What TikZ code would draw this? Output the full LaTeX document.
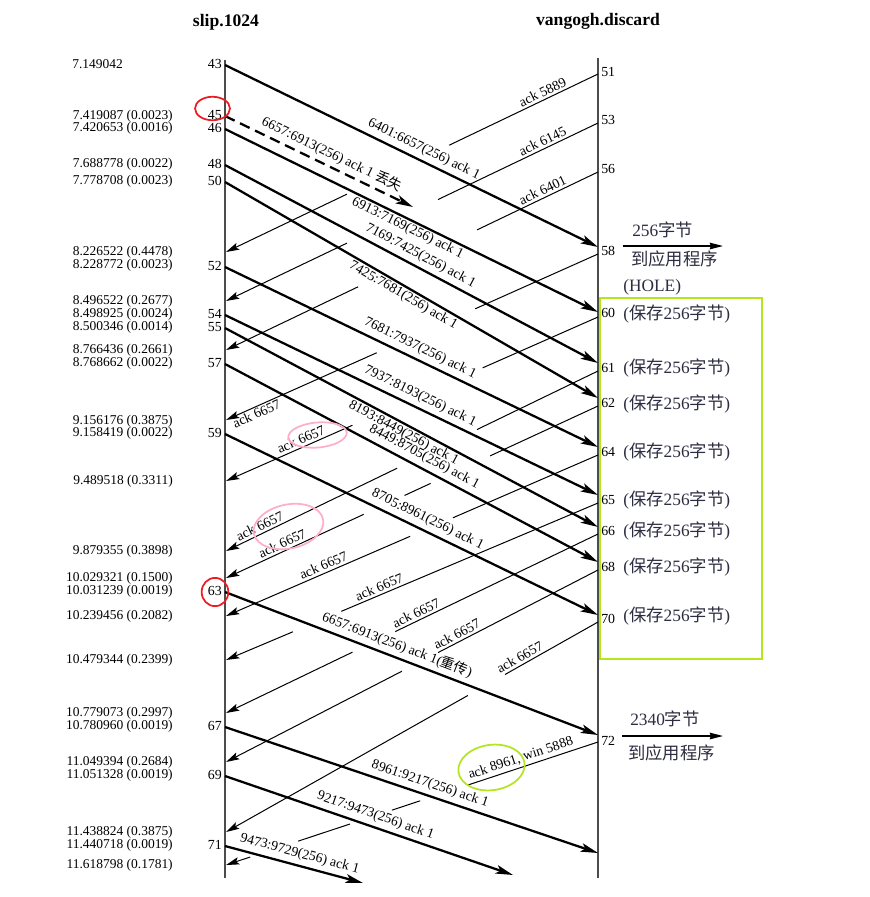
\documentclass[tikz,border=0pt]{standalone}
\usepackage{fontspec}
\setmainfont{Liberation Serif}
\newfontfamily\cjk{Noto Sans CJK SC}
\usetikzlibrary{arrows.meta,calc}
\definecolor{hlred}{RGB}{237,28,36}
\definecolor{hlpink}{RGB}{255,174,201}
\definecolor{hllime}{RGB}{181,230,29}
\definecolor{anncol}{RGB}{45,45,65}
\begin{document}
\begin{tikzpicture}[x=0.75pt,y=-0.75pt,
  timeline/.style={line width=0.9pt, draw=black!70},
  datal/.style={line width=1.7pt, -{Stealth[length=13pt,width=6.5pt,inset=3pt]}},
  ackline/.style={line width=0.75pt},
  acktip/.style={line width=0.75pt, -{Stealth[length=10pt,width=5.5pt,inset=2pt]}},
  seglbl/.style={sloped, inner sep=1pt, font=\fontsize{10.4}{12}\selectfont},
  segnum/.style={inner sep=0pt, font=\fontsize{10.4}{12}\selectfont},
  tstamp/.style={inner sep=0pt, anchor=east, font=\fontsize{10.1}{12}\selectfont},
  annot/.style={inner sep=0pt, anchor=west, text=anncol, font=\fontsize{13}{15}\selectfont},
  hdr/.style={inner sep=0pt, font=\fontsize{13.2}{15}\selectfont\bfseries},
  appar/.style={line width=1pt, -{Stealth[length=10pt,width=5pt,inset=1pt]}},
  hl/.style={line width=1.3pt}
]
\useasboundingbox (0,0) rectangle (870,897);
\fill[white] (0,0) rectangle (870,897);

% headers
\node[hdr, anchor=base] (h1) at (226,26) {slip.1024};
\node[hdr, anchor=base] (h2) at (598,25) {vangogh.discard};

% timelines
\coordinate (LT) at (225,60); \coordinate (LB) at (225,878);
\coordinate (RT) at (598,58); \coordinate (RB) at (598,878);
\draw[timeline] (LT) -- (LB);
\draw[timeline] (RT) -- (RB);

% time stamps
\node[tstamp, anchor=west] (ts0) at (72,64) {7.149042};
\foreach \t/\y [count=\i] in {
  7.419087 (0.0023)/116, 7.420653 (0.0016)/128, 7.688778 (0.0022)/164,
  7.778708 (0.0023)/181, 8.226522 (0.4478)/252, 8.228772 (0.0023)/265,
  8.496522 (0.2677)/301, 8.498925 (0.0024)/314, 8.500346 (0.0014)/327,
  8.766436 (0.2661)/350, 8.768662 (0.0022)/363, 9.156176 (0.3875)/421,
  9.158419 (0.0022)/433, 9.489518 (0.3311)/481, 9.879355 (0.3898)/551,
  10.029321 (0.1500)/578, 10.031239 (0.0019)/591, 10.239456 (0.2082)/616,
  10.479344 (0.2399)/660, 10.779073 (0.2997)/713, 10.780960 (0.0019)/726,
  11.049394 (0.2684)/762, 11.051328 (0.0019)/775, 11.438824 (0.3875)/832,
  11.440718 (0.0019)/845, 11.618798 (0.1781)/865}
  \node[tstamp] (ts\i) at (173,\y) {\t};

% segment numbers
\foreach \n/\y in {43/64,45/115,46/128,48/164,50/181,52/266,54/314,55/327,
  57/363,59/433,63/591,67/726,69/775,71/845}
  \node[segnum, anchor=east] (ln\n) at (222,\y) {\n};
\foreach \n/\y in {51/72,53/120,56/169,58/251,60/313,61/368,62/403,64/452,
  65/500,66/531,68/567,70/619,72/741}
  \node[segnum, anchor=west] (rn\n) at (601,\y) {\n};

% data segment end points
\coordinate (s43) at (225,65);  \coordinate (r58) at (598,247);
\coordinate (s45) at (225,116); \coordinate (e45) at (413,207);
\coordinate (s46) at (225,129); \coordinate (r60) at (598,312);
\coordinate (s48) at (225,165); \coordinate (r61) at (598,363);
\coordinate (s50) at (225,182); \coordinate (r62) at (598,398);
\coordinate (s52) at (225,267); \coordinate (r64) at (598,447);
\coordinate (s54) at (225,315); \coordinate (r65) at (598,495);
\coordinate (s55) at (225,328); \coordinate (r66) at (598,527);
\coordinate (s57) at (225,364); \coordinate (r68) at (598,562);
\coordinate (s59) at (225,434); \coordinate (r70) at (598,615);
\coordinate (s63) at (225,592); \coordinate (r72) at (598,735);
\coordinate (s67) at (225,727); \coordinate (e67) at (598,853);
\coordinate (s69) at (225,776); \coordinate (e69) at (513,875);
\coordinate (s71) at (225,846); \coordinate (e71) at (363,883);

% data segments
\draw[datal] (s43) -- (r58) node[seglbl, pos=.52, above=2pt] (d43) {6401:6657(256) ack 1};
\draw[datal, dash pattern=on 8pt off 4.5pt] (s45) -- (e45) node[seglbl, pos=.54, above=2pt] (d45) {6657:6913(256) ack 1 {\cjk 丢失}};
\draw[datal] (s46) -- (r60) node[seglbl, pos=.50, below=0pt] (d46) {6913:7169(256) ack 1};
\draw[datal] (s48) -- (r61) node[seglbl, pos=.51, above=2pt] (d48) {7169:7425(256) ack 1};
\draw[datal] (s50) -- (r62) node[seglbl, pos=.49, below=0pt] (d50) {7425:7681(256) ack 1};
\draw[datal] (s52) -- (r64) node[seglbl, pos=.51, above=2pt] (d52) {7681:7937(256) ack 1};
\draw[datal] (s54) -- (r65) node[seglbl, pos=.51, above=2pt] (d54) {7937:8193(256) ack 1};
\draw[datal] (s55) -- (r66) node[seglbl, pos=.49, below=0pt] (d55) {8193:8449(256) ack 1};
\draw[datal] (s57) -- (r68) node[seglbl, pos=.52, above=2pt] (d57) {8449:8705(256) ack 1};
\draw[datal] (s59) -- (r70) node[seglbl, pos=.53, above=2pt] (d59) {8705:8961(256) ack 1};
\draw[datal] (s63) -- (r72) node[seglbl, pos=.45, above=2pt] (d63) {6657:6913(256) ack 1({\cjk 重传})};
\draw[datal] (s67) -- (e67) node[seglbl, pos=.54, above=2pt] (d67) {8961:9217(256) ack 1};
\draw[datal] (s69) -- (e69) node[seglbl, pos=.51, above=2pt] (d69) {9217:9473(256) ack 1};
\draw[datal] (s71) -- (e71) node[seglbl, pos=.52, above=2pt] (d71) {9473:9729(256) ack 1};

% ack end points
\coordinate (R51) at (598,74);  \coordinate (A51) at (226,252);
\coordinate (R53) at (598,123); \coordinate (A53) at (226,301);
\coordinate (R56) at (598,172); \coordinate (A56) at (226,350);
\coordinate (R58) at (598,254); \coordinate (A58) at (226,420);
\coordinate (R60) at (598,317); \coordinate (A60) at (226,481);
\coordinate (R61) at (598,371); \coordinate (A61) at (226,551);
\coordinate (R62) at (598,406); \coordinate (A62) at (226,578);
\coordinate (R64) at (598,455); \coordinate (A64) at (226,616);
\coordinate (R65) at (598,503); \coordinate (A65) at (226,660);
\coordinate (R66) at (598,534); \coordinate (A66) at (226,713);
\coordinate (R68) at (598,570); \coordinate (A68) at (226,762);
\coordinate (R70) at (598,622); \coordinate (A70) at (226,832);
\coordinate (R72) at (598,742); \coordinate (A72) at (226,865);

% ack lines, broken where they cross the data segments
\foreach \k/\a/\b in {51/.40/.675, 53/.43/.675, 56/.325/.645, 58/.33/.595,
  60/.31/.66, 61/.325/.54, 64/.39/.505, 65/.69/.82, 66/.545/.66,
  68/.43/.527, 70/.25/.35}{
  \coordinate (G\k a) at ($(R\k)!\a!(A\k)$);
  \coordinate (G\k b) at ($(R\k)!\b!(A\k)$);
  \draw[ackline] (R\k) -- (G\k a);
  \draw[acktip] (G\k b) -- (A\k);
}
\coordinate (G62a) at ($(R62)!.29!(A62)$);
\coordinate (G62b) at ($(R62)!.45!(A62)$);
\coordinate (G62c) at ($(R62)!.52!(A62)$);
\coordinate (G62d) at ($(R62)!.63!(A62)$);
\draw[ackline] (R62) -- (G62a);
\draw[ackline] (G62b) -- (G62c);
\draw[acktip] (G62d) -- (A62);
\coordinate (G72a) at ($(R72)!.352!(A72)$);
\coordinate (G72b) at ($(R72)!.478!(A72)$);
\coordinate (G72c) at ($(R72)!.554!(A72)$);
\coordinate (G72d) at ($(R72)!.667!(A72)$);
\coordinate (G72e) at ($(R72)!.806!(A72)$);
\coordinate (G72f) at ($(R72)!.935!(A72)$);
\draw[ackline] (R72) -- (G72a);
\draw[ackline] (G72b) -- (G72c);
\draw[ackline] (G72d) -- (G72e);
\draw[acktip] (G72f) -- (A72);

% ack labels
\path (A51) -- (R51) node[seglbl, pos=.86, above=1pt] (k51) {ack 5889};
\path (A53) -- (R53) node[seglbl, pos=.86, above=1pt] (k53) {ack 6145};
\path (A56) -- (R56) node[seglbl, pos=.86, above=1pt] (k56) {ack 6401};
\path (A58) -- (R58) node[seglbl, pos=.075, below=0pt] (k58) {ack 6657};
\path (A60) -- (R60) node[seglbl, pos=.21, above=1pt] (k60) {ack 6657};
\path (A61) -- (R61) node[seglbl, pos=.10, above=1pt] (k61) {ack 6657};
\path (A62) -- (R62) node[seglbl, pos=.16, above=1pt] (k62) {ack 6657};
\path (A64) -- (R64) node[seglbl, pos=.27, above=1pt] (k64) {ack 6657};
\path (A65) -- (R65) node[seglbl, pos=.42, above=1pt] (k65) {ack 6657};
\path (A66) -- (R66) node[seglbl, pos=.52, above=1pt] (k66) {ack 6657};
\path (A68) -- (R68) node[seglbl, pos=.63, above=1pt] (k68) {ack 6657};
\path (A70) -- (R70) node[seglbl, pos=.80, above=1pt] (k70) {ack 6657};
\path (A72) -- (R72) node[seglbl, pos=.80, above=1pt] (k72) {ack 8961, win 5888};

% right-hand annotations
\coordinate (p1s) at (623,246); \coordinate (p1e) at (723,246);
\draw[appar] (p1s) -- (p1e);
\node[annot] (b1) at (632,230) {256{\cjk 字节}};
\node[annot] (b2) at (631,259) {\cjk 到应用程序};
\node[annot] (hole) at (623,287) {(HOLE)};
\coordinate (p2s) at (622,736); \coordinate (p2e) at (723,736);
\draw[appar] (p2s) -- (p2e);
\node[annot] (c1) at (630,719) {2340{\cjk 字节}};
\node[annot] (c2) at (628,753) {\cjk 到应用程序};
\foreach \y [count=\i] in {314,368,404,452,500,531,567,616}
  \node[annot] (sv\i) at (623,\y) {({\cjk 保存}256{\cjk 字节})};

% highlights
\draw[hllime, line width=1.5pt] (600,298) rectangle (762,659);
\draw[hlred, hl] (212.5,108.5) ellipse [x radius=13.1pt, y radius=8.8pt];
\draw[hlred, hl] (215,592) ellipse [x radius=10pt, y radius=10.6pt];
\draw[hlpink, hl] (317.5,435) ellipse [x radius=22pt, y radius=9.4pt, rotate=5];
\draw[hlpink, hl] (288.5,526.5) ellipse [x radius=26.5pt, y radius=16.5pt, rotate=12];
\draw[hllime, hl] (491.5,767.5) ellipse [x radius=25pt, y radius=17pt, rotate=8];
\end{tikzpicture}
\end{document}
